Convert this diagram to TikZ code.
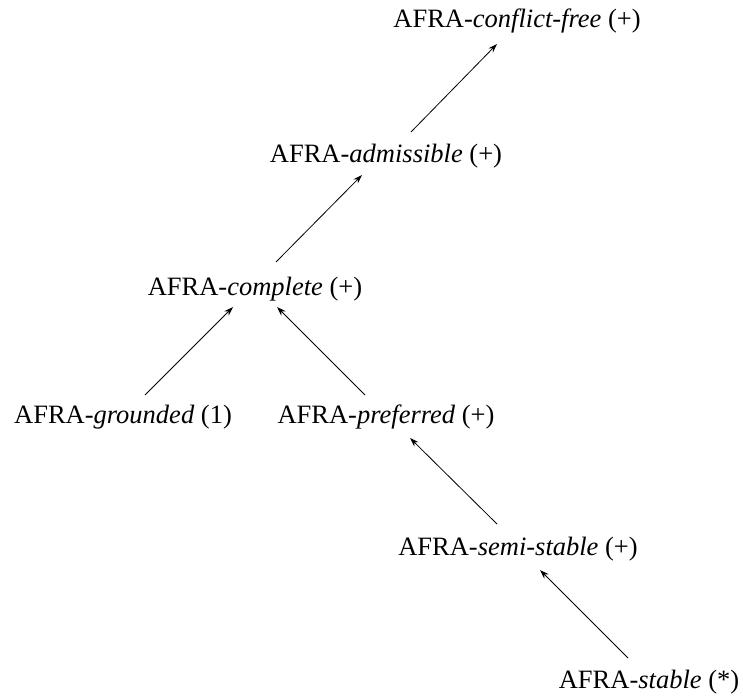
\documentclass[tikz,border=0pt]{standalone}
\usepackage{fontspec}
\setmainfont{Liberation Serif}
\usetikzlibrary{arrows.meta,calc}
\begin{document}
\begin{tikzpicture}[x=1pt,y=-1pt,
  lbl/.style={anchor=base,inner sep=0pt,font=\fontsize{26.5}{31}\selectfont},
  arr/.style={line width=0.8pt,-{Stealth[length=9pt,width=6pt]}}]
\useasboundingbox (0,0) rectangle (743,696);
\node[lbl] (cf)   at (517,27)  {AFRA-\textit{conflict-free} (+)};
\node[lbl] (adm)  at (386,162) {AFRA-\textit{admissible} (+)};
\node[lbl] (comp) at (255,295) {AFRA-\textit{complete} (+)};
\node[lbl] (grd)  at (123,423) {AFRA-\textit{grounded} (1)};
\node[lbl] (pref) at (386,423) {AFRA-\textit{preferred} (+)};
\node[lbl] (semi) at (518,555) {AFRA-\textit{semi-stable} (+)};
\node[lbl] (stab) at (649,688) {AFRA-\textit{stable} (*)};
\draw[arr] ($(adm.base)+(25,-30)$) -- ($(cf.base)+(-20,17)$);
\draw[arr] ($(comp.base)+(21,-33)$) -- ($(adm.base)+(-24,13)$);
\draw[arr] ($(grd.base)+(22,-28)$) -- ($(comp.base)+(-22,12)$);
\draw[arr] ($(pref.base)+(-21,-28)$) -- ($(comp.base)+(22,12)$);
\draw[arr] ($(semi.base)+(-21,-31)$) -- ($(pref.base)+(24,15)$);
\draw[arr] ($(stab.base)+(-21,-30)$) -- ($(semi.base)+(22,15)$);
\end{tikzpicture}
\end{document}
